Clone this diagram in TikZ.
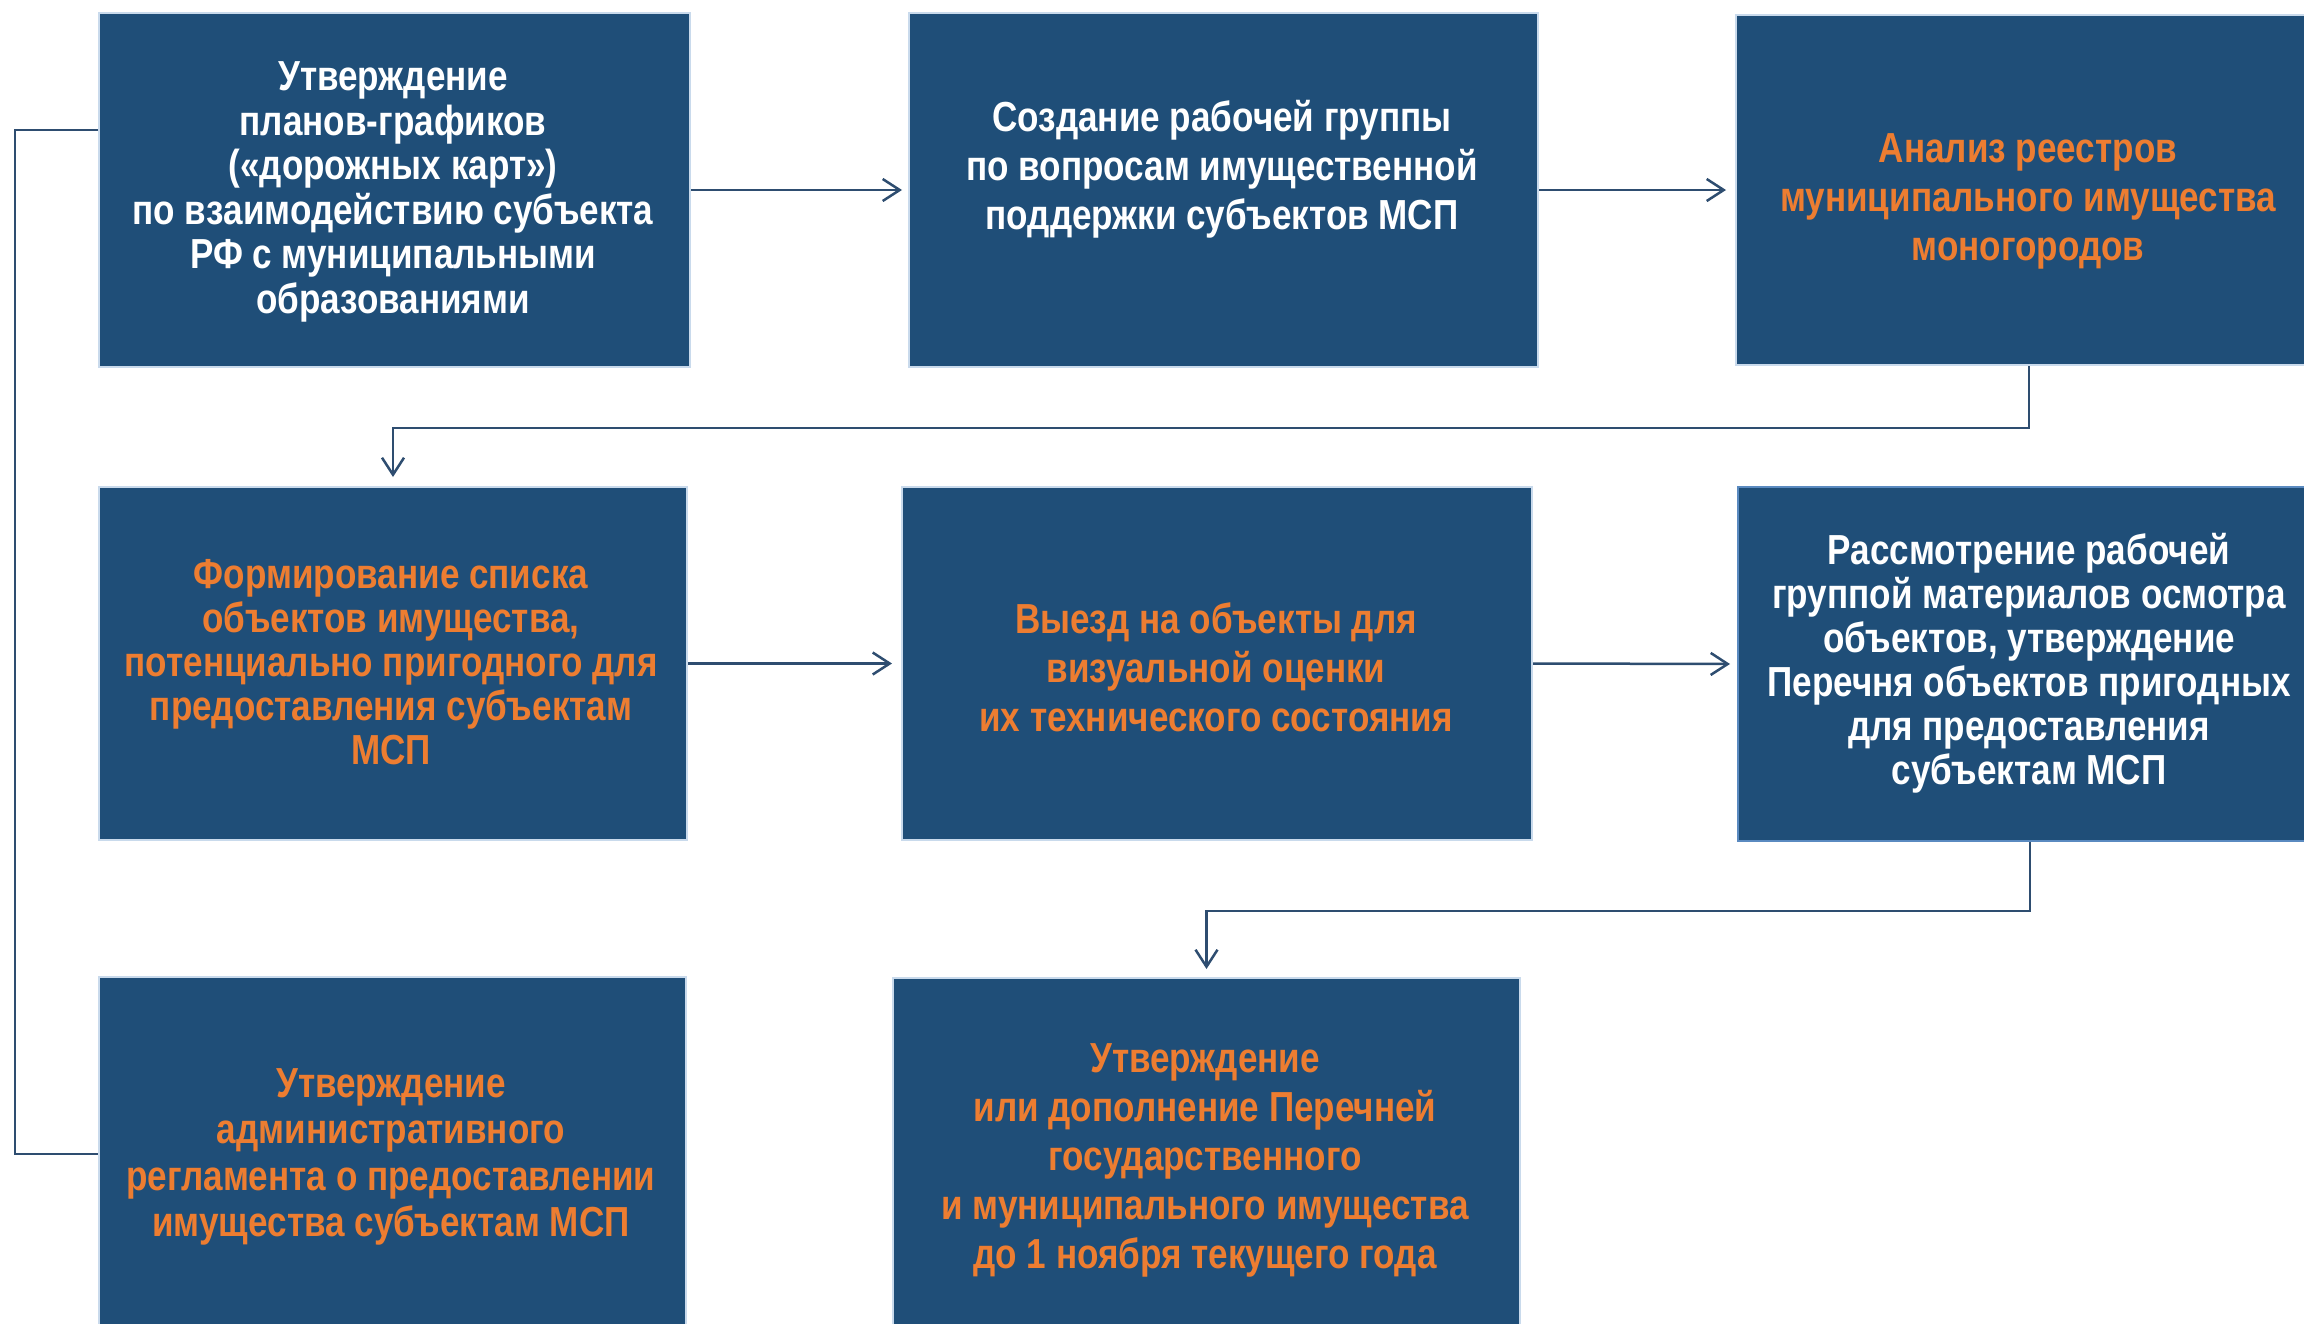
\documentclass[tikz,border=0pt]{standalone}
\usepackage{fontspec}
\setmainfont{Liberation Sans}[FakeStretch=0.835]
\usetikzlibrary{arrows.meta}
\definecolor{boxblue}{HTML}{1F4E78}
\definecolor{txtorange}{HTML}{ED7D31}
\definecolor{linecol}{HTML}{2E4D70}
\definecolor{edgecol}{HTML}{C9DAEC}
\definecolor{edgeblue}{HTML}{5A8AC0}
\begin{document}
\begin{tikzpicture}[x=1pt,y=-1pt,
  box/.style={fill=boxblue, draw=edgecol, line width=2pt, anchor=north west, inner sep=0pt},
  lbl/.style={align=center, inner sep=0pt, font=\bfseries\fontsize{42}{#1}\selectfont},
  wtxt/.style={lbl=#1, text=white},
  otxt/.style={lbl=#1, text=txtorange},
  conn/.style={draw=linecol, line width=2.5pt},
  arr/.style={conn, -{Straight Barb[length=17pt,width=22pt,line width=2.5pt]}}]
\path[use as bounding box] (0,0) rectangle (2304,1323);
\clip (0,0) rectangle (2304,1323);
\fill[white] (0,0) rectangle (2304,1323);

\node[box, minimum width=591pt, minimum height=354pt] (b1) at (98,12) {};
\node[box, minimum width=629pt, minimum height=354pt] (b2) at (908,12) {};
\node[box, minimum width=586pt, minimum height=350pt] (b3) at (1735,14) {};
\node[box, minimum width=588pt, minimum height=353pt] (b4) at (98,486) {};
\node[box, minimum width=630pt, minimum height=353pt] (b5) at (901,486) {};
\node[box, draw=edgeblue, minimum width=584pt, minimum height=354pt] (b6) at (1737,486) {};
\node[box, minimum width=587pt, minimum height=354pt] (b7) at (98,976) {};
\node[box, minimum width=627pt, minimum height=354pt] (b8) at (892,977) {};

\node[wtxt=44.5] (t1) at (393,192) {Утверждение\\планов-графиков\\(«дорожных карт»)\\по взаимодействию субъекта\\РФ с муниципальными\\образованиями};
\node[wtxt=49] (t2) at (1222,169.5) {Создание рабочей группы\\по вопросам имущественной\\поддержки субъектов МСП};
\node[otxt=49] (t3) at (2028,201) {Анализ реестров\\муниципального имущества\\моногородов};
\node[otxt=44] (t4) at (391,662) {Формирование списка\\объектов имущества,\\потенциально пригодного для\\предоставления субъектам\\МСП};
\node[otxt=49] (t5) at (1216,667) {Выезд на объекты для\\визуальной оценки\\их технического состояния};
\node[wtxt=44] (t6) at (2029,663.5) {Рассмотрение рабочей\\группой материалов осмотра\\объектов, утверждение\\Перечня объектов пригодных\\для предоставления\\субъектам МСП};
\node[otxt=46.5] (t7) at (391,1157) {Утверждение\\административного\\регламента о предоставлении\\имущества субъектам МСП};
\node[otxt=49] (t8) at (1205,1160) {Утверждение\\или дополнение Перечней\\государственного\\и муниципального имущества\\до 1 ноября текущего года};

\coordinate (lx) at (15,0);
\draw[arr, shorten >=6pt] (b1.east) -- (b2.west);
\draw[arr, shorten >=9pt] (b2.east) -- (b3.west);
\draw[arr, shorten >=9pt] (b3.south) -- ++(0,62) -| (b4.north);
\draw[arr, shorten >=9pt] (b4.east) -- (b5.west);
\draw[arr, shorten >=7pt] (b5.east) -- (b6.west);
\draw[arr, shorten >=8pt] (b6.south) -- ++(0,69) -| (b8.north);
\draw[conn] ([yshift=60pt]b1.west) -| (lx |- b7.west) -- (b7.west);
\end{tikzpicture}
\end{document}
